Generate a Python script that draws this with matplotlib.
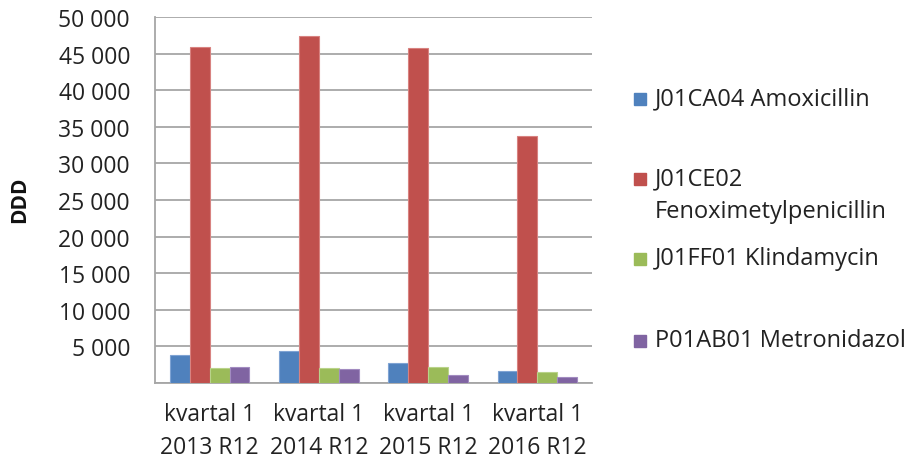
#!/usr/bin/env python3
# -*- coding: utf-8 -*-
import numpy as np
import matplotlib
matplotlib.use("Agg")
import matplotlib.pyplot as plt
from matplotlib.patches import Rectangle
from matplotlib.ticker import FuncFormatter, MultipleLocator

#!----------------------------------------------------------------------
#!	DATA
#!----------------------------------------------------------------------
categories = ["kvartal 1\n2013 R12", "kvartal 1\n2014 R12",
              "kvartal 1\n2015 R12", "kvartal 1\n2016 R12"]
series_names = ["J01CA04 Amoxicillin", "J01CE02\nFenoximetylpenicillin",
                "J01FF01 Klindamycin", "P01AB01 Metronidazol"]
amoxicillin = [3770, 4320, 2730, 1680]
fenoximetylpenicillin = [45900, 47400, 45700, 33750]
klindamycin = [2050, 2000, 2190, 1540]
metronidazol = [2190, 1860, 1130, 820]
colors = ["#4F81BD", "#C0504D", "#9BBB59", "#8064A2"]
edges = ["#7FA3D3", "#D88280", "#B9D38A", "#A28BC0"]

#!----------------------------------------------------------------------
#!	PLOT
#!----------------------------------------------------------------------
plt.rcParams['font.family'] = ['Open Sans', 'DejaVu Sans']
W, H = 905, 460
fig = plt.figure(figsize=(W/100, H/100), dpi=100)
ax = fig.add_axes([155/W, 1-384/H, (592-155)/W, (384-18)/H])

values = [amoxicillin, fenoximetylpenicillin, klindamycin, metronidazol]
x = np.arange(len(categories))
bw = 0.182
for i, vals in enumerate(values):
	ax.bar(x + (i-1.5)*bw, vals, width=bw, color=colors[i], edgecolor=edges[i],
	       linewidth=0.8, zorder=3)

ax.set_xlim(-0.5, 3.5)
ax.set_ylim(0, 50000)
ax.yaxis.set_major_locator(MultipleLocator(5000))
ax.yaxis.set_major_formatter(FuncFormatter(
	lambda v, p: "" if v == 0 else "{:,}".format(int(v)).replace(",", " ")))
ax.set_xticks(x)
ax.set_xticklabels(categories, fontsize=16.5, color="#222222", linespacing=1.5)
ax.tick_params(axis='y', length=0, pad=18, labelsize=16.5, labelcolor="#222222")
ax.tick_params(axis='x', length=0, pad=14)
ax.grid(axis='y', color="#A6A6A6", lw=1.3, zorder=0)
for s in ['top', 'right']:
	ax.spines[s].set_visible(False)
for s in ['left', 'bottom']:
	ax.spines[s].set_color("#A6A6A6")
	ax.spines[s].set_linewidth(1.3)

fig.text(20/W, 1-200/H, "DDD", rotation=90, fontsize=15, fontweight='bold',
         ha='center', va='center', color="#111111")

# legend
leg_y = [100, 180, 260, 342]
for i, name in enumerate(series_names):
	y = leg_y[i]
	fig.add_artist(Rectangle((634/W, 1-(y+6)/H), 12/W, 12/H,
	                         transform=fig.transFigure, color=colors[i]))
	fig.text(655/W, 1-(y-13)/H, name, fontsize=17, color="#222222",
	         ha='left', va='top', linespacing=1.5)

plt.savefig("out.png", dpi=100)
